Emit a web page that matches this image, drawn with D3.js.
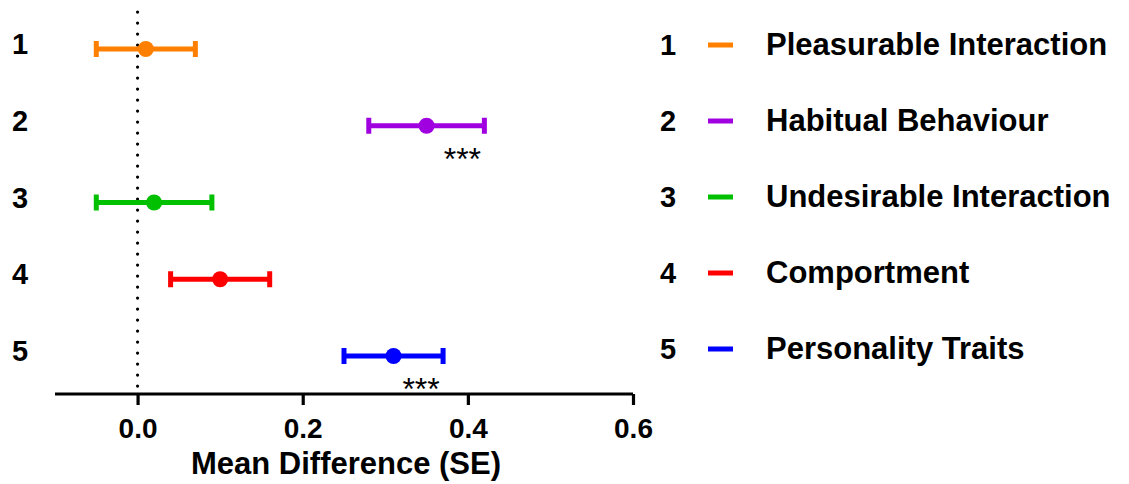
<!DOCTYPE html>
<html>
<head>
<meta charset="utf-8">
<script src="https://cdn.jsdelivr.net/npm/d3@7"></script>
<style>
  html, body { margin: 0; padding: 0; background: #fff; }
  svg { display: block; }
  text { font-family: Arial, "Liberation Sans", Helvetica, sans-serif; font-weight: bold; fill: #000; }
</style>
</head>
<body>
<svg id="chart" width="1129" height="484"></svg>
<script>
const rows = [1, 2, 3, 4, 5];
const categories = ["Pleasurable Interaction", "Habitual Behaviour", "Undesirable Interaction", "Comportment", "Personality Traits"];
const means = [0.01, 0.35, 0.02, 0.10, 0.31];
const lower = [-0.05, 0.28, -0.05, 0.04, 0.25];
const upper = [0.07, 0.42, 0.09, 0.16, 0.37];
const significance = ["", "***", "", "", "***"];
const colors = ["#ff8000", "#a000e0", "#00c000", "#ff0000", "#0000ff"];
const xTicks = [0.0, 0.2, 0.4, 0.6];
const xTitle = "Mean Difference (SE)";

const FONT = "Arial, 'Liberation Sans', Helvetica, sans-serif";
const svg = d3.select("#chart");
const x = d3.scaleLinear().domain([-0.1, 0.6]).range([55, 633]);
const y = d3.scaleLinear().domain([1, 5]).range([49, 356]);
const axisY = 394;

// zero reference dotted line
svg.append("line")
  .attr("x1", x(0)).attr("x2", x(0))
  .attr("y1", 12).attr("y2", axisY)
  .attr("stroke", "#000").attr("stroke-width", 3.2)
  .attr("stroke-linecap", "round")
  .attr("stroke-dasharray", "0.1,10.9");

// x axis
const axis = d3.axisBottom(x).tickValues(xTicks).tickFormat(d3.format(".1f")).tickSize(11).tickSizeOuter(0);
const gAxis = svg.append("g").attr("transform", `translate(0,${axisY})`).call(axis);
gAxis.select(".domain").attr("stroke", "#000").attr("stroke-width", 3.2).attr("d", `M${x.range()[0]},0H${x.range()[1]}`);
gAxis.selectAll(".tick line").attr("stroke", "#000").attr("stroke-width", 3.2);
gAxis.selectAll(".tick text")
  .attr("y", 44).attr("dy", 0)
  .style("font-size", "28px").style("font-family", FONT).style("font-weight", "bold")
  .attr("fill", "#000");

svg.append("text")
  .attr("x", (x.range()[0] + x.range()[1]) / 2 + 2).attr("y", 474)
  .attr("text-anchor", "middle").style("font-size", "31px")
  .text(xTitle);

// row labels
svg.selectAll(".rowlab").data(rows).enter().append("text")
  .attr("class", "rowlab")
  .attr("x", 20).attr("y", d => y(d) + 5)
  .attr("text-anchor", "middle")
  .style("font-size", "29px")
  .text(d => d);

// error bars
const g = svg.selectAll(".bar").data(rows).enter().append("g").attr("class", "bar");
g.append("line")
  .attr("x1", (d, i) => x(lower[i])).attr("x2", (d, i) => x(upper[i]))
  .attr("y1", d => y(d)).attr("y2", d => y(d))
  .attr("stroke", (d, i) => colors[i]).attr("stroke-width", 5);
g.append("line")
  .attr("x1", (d, i) => x(lower[i])).attr("x2", (d, i) => x(lower[i]))
  .attr("y1", d => y(d) - 8).attr("y2", d => y(d) + 8)
  .attr("stroke", (d, i) => colors[i]).attr("stroke-width", 5);
g.append("line")
  .attr("x1", (d, i) => x(upper[i])).attr("x2", (d, i) => x(upper[i]))
  .attr("y1", d => y(d) - 8).attr("y2", d => y(d) + 8)
  .attr("stroke", (d, i) => colors[i]).attr("stroke-width", 5);
g.append("circle")
  .attr("cx", (d, i) => x(means[i])).attr("cy", d => y(d))
  .attr("r", 8)
  .attr("fill", (d, i) => colors[i]);
g.append("text")
  .attr("x", (d, i) => x(upper[i]) - 22).attr("y", d => y(d) + 44)
  .attr("text-anchor", "middle")
  .style("font-size", "32px").style("font-weight", "normal")
  .text((d, i) => significance[i]);

// legend
const leg = svg.selectAll(".leg").data(rows).enter().append("g").attr("class", "leg")
  .attr("transform", (d, i) => `translate(0,${45 + i * 76})`);
leg.append("text").attr("x", 668).attr("y", 10).attr("text-anchor", "middle")
  .style("font-size", "29px").text(d => d);
leg.append("line").attr("x1", 708).attr("x2", 733).attr("y1", 0).attr("y2", 0)
  .attr("stroke", (d, i) => colors[i]).attr("stroke-width", 5);
leg.append("text").attr("x", 766).attr("y", 10)
  .style("font-size", "31px")
  .text((d, i) => categories[i]);
</script>
</body>
</html>
